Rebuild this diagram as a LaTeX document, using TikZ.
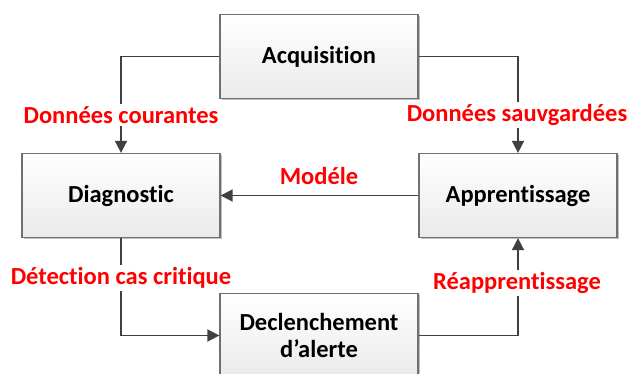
\documentclass[tikz,border=0pt]{standalone}
\usepackage{fontspec}
\setmainfont{Carlito}[Ligatures={NoCommon}]
\usetikzlibrary{arrows.meta,shadows}
\definecolor{linec}{HTML}{404040}
\definecolor{boxborder}{HTML}{707070}
\definecolor{boxbottom}{HTML}{EAEAEA}
\tikzset{
  box/.style={draw=boxborder, line width=1.3pt, top color=white, bottom color=boxbottom,
    minimum width=198pt, minimum height=84pt, align=center, inner sep=0pt,
    font=\fontsize{24.5}{27}\selectfont\bfseries,
    drop shadow={shadow xshift=1.5pt, shadow yshift=-1.5pt, opacity=0.25, fill=black}},
  conn/.style={draw=linec, line width=1.8pt, -{Triangle[length=12pt,width=12pt]}},
  lab/.style={text=red, fill=white, inner sep=2pt, font=\fontsize{24.5}{27}\selectfont\bfseries},
  labnf/.style={text=red, inner sep=2pt, font=\fontsize{24.5}{27}\selectfont\bfseries}
}
\begin{document}
\begin{tikzpicture}[x=1pt,y=-1pt]
\useasboundingbox (0,0) rectangle (628,374);
\clip (0,0) rectangle (628,374);
\node[box] (acq) at (319,56.5) {Acquisition};
\node[box] (diag) at (121,195.5) {Diagnostic};
\node[box] (appr) at (518,195.5) {Apprentissage};
\node[box] (decl) at (319,335.5) {Declenchement\\d’alerte};
\draw[conn] (acq.west) -| (diag.north);
\draw[conn] (acq.east) -| (appr.north);
\draw[conn] (appr.west) -- (diag.east);
\draw[conn] (diag.south) |- (decl.west);
\draw[conn] (decl.east) -| (appr.south);
\node[lab] (l1) at (121,115) {Données courantes};
\node[lab] (l2) at (517,115) {Données sauvgardées};
\node[labnf] (l3) at (319,176) {Modéle};
\node[lab] (l4) at (121,278) {Détection cas critique};
\node[lab] (l5) at (517,283) {Réapprentissage};
\end{tikzpicture}
\end{document}
